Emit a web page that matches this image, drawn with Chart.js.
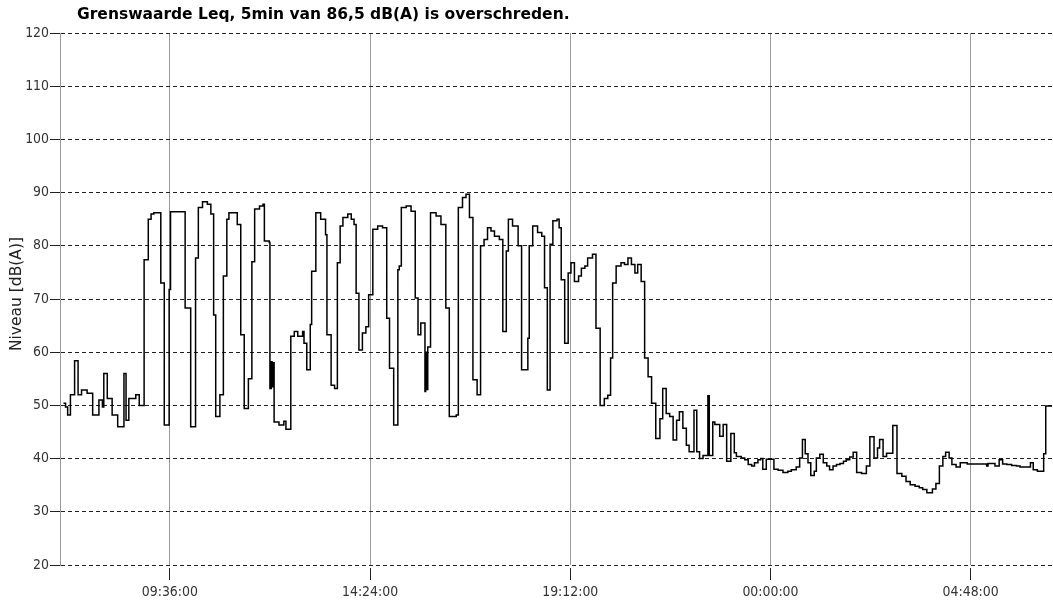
<!DOCTYPE html>
<html>
<head>
<meta charset="utf-8">
<script src="https://cdn.jsdelivr.net/npm/chart.js@4.4.1/dist/chart.umd.min.js"></script>
<style>
  html, body { margin: 0; padding: 0; background: #fff; }
  #wrap { width: 1053px; height: 609px; position: relative; }
</style>
</head>
<body>
<div id="wrap"><canvas id="levelChart"></canvas></div>
<script>
// Leq 5 min (step changes only)
const TITLE = "Grenswaarde Leq, 5min van 86,5 dB(A) is overschreden.";
const Y_TITLE = "Niveau [dB(A)]";

const startTime = "06:58";
const endTime = "06:45";
const tickTimes = ["09:36", "14:24", "19:12", "00:00", "04:48"];
const yTicks = [20, 30, 40, 50, 60, 70, 80, 90, 100, 110, 120];

const stepTimes = [
  "07:03", "07:06", "07:09", "07:13", "07:19", "07:24", "07:29", "07:37", "07:45", "07:54",
  "07:59", "08:01", "08:06", "08:13", "08:21", "08:30", "08:33", "08:37", "08:47", "08:52",
  "08:59", "09:05", "09:09", "09:13", "09:23", "09:28", "09:35", "09:37", "09:58", "10:06",
  "10:13", "10:17", "10:23", "10:30", "10:35", "10:39", "10:42", "10:48", "10:53", "10:58",
  "11:01", "11:13", "11:18", "11:23", "11:29", "11:34", "11:38", "11:45", "11:50", "11:52",
  "11:59", "12:00", "12:02", "12:03", "12:04", "12:06", "12:13", "12:20", "12:23", "12:30",
  "12:35", "12:40", "12:47", "12:49", "12:53", "12:58", "13:00", "13:06", "13:13", "13:20",
  "13:22", "13:28", "13:33", "13:37", "13:41", "13:45", "13:52", "13:57", "14:01", "14:04",
  "14:08", "14:13", "14:18", "14:22", "14:28", "14:35", "14:42", "14:48", "14:52", "14:58",
  "15:04", "15:06", "15:09", "15:16", "15:23", "15:29", "15:33", "15:37", "15:43", "15:44",
  "15:45", "15:47", "15:51", "15:59", "16:06", "16:13", "16:18", "16:28", "16:31", "16:37",
  "16:42", "16:47", "16:52", "16:58", "17:03", "17:08", "17:13", "17:18", "17:23", "17:30",
  "17:35", "17:40", "17:43", "17:49", "17:57", "18:02", "18:11", "18:13", "18:18", "18:25",
  "18:31", "18:35", "18:39", "18:43", "18:47", "18:53", "18:56", "18:59", "19:04", "19:09",
  "19:13", "19:18", "19:24", "19:28", "19:33", "19:37", "19:44", "19:49", "19:55", "20:01",
  "20:06", "20:10", "20:13", "20:18", "20:25", "20:30", "20:35", "20:40", "20:45", "20:49",
  "20:54", "20:59", "21:04", "21:09", "21:15", "21:21", "21:25", "21:30", "21:35", "21:40",
  "21:45", "21:49", "21:54", "21:59", "22:03", "22:10", "22:14", "22:18", "22:23", "22:30",
  "22:32", "22:37", "22:40", "22:47", "22:52", "22:57", "23:03", "23:08", "23:11", "23:18",
  "23:23", "23:28", "23:33", "23:37", "23:42", "23:46", "23:49", "23:54", "00:05", "00:11",
  "00:18", "00:25", "00:30", "00:37", "00:42", "00:46", "00:50", "00:54", "00:58", "01:03",
  "01:06", "01:11", "01:16", "01:21", "01:25", "01:30", "01:35", "01:40", "01:45", "01:49",
  "01:54", "01:59", "02:04", "02:11", "02:18", "02:23", "02:29", "02:34", "02:37", "02:42",
  "02:47", "02:56", "03:02", "03:09", "03:15", "03:21", "03:28", "03:34", "03:39", "03:45",
  "03:53", "03:58", "04:03", "04:08", "04:12", "04:17", "04:21", "04:27", "04:33", "04:43",
  "05:11", "05:13", "05:23", "05:29", "05:34", "05:40", "05:47", "05:54", "05:59", "06:14",
  "06:18", "06:24", "06:33", "06:36", "06:45"
];

const stepLevels = [
  50.4, 49.7, 48.2, 52.0, 58.4, 52.0, 52.9, 52.3, 48.2, 51.0,
  49.7, 56.0, 51.3, 48.2, 46.0, 56.0, 47.2, 51.3, 52.0, 50.0,
  77.4, 85.0, 86.0, 86.2, 73.0, 46.3, 71.8, 86.4, 68.3, 46.0,
  77.7, 87.2, 88.3, 87.8, 86.0, 67.0, 47.9, 52.0, 74.3, 85.0,
  86.2, 84.0, 63.3, 49.4, 55.0, 77.0, 86.9, 87.5, 87.8, 80.9,
  80.6, 53.2, 58.2, 53.5, 58.0, 46.9, 46.3, 47.0, 45.5, 63.0,
  63.9, 63.0, 63.9, 61.7, 56.7, 65.2, 75.2, 86.2, 85.0, 82.1,
  63.3, 53.8, 53.2, 76.8, 83.7, 85.3, 86.0, 85.0, 84.0, 71.1,
  60.4, 63.6, 64.8, 70.8, 83.1, 83.7, 83.4, 66.4, 57.0, 46.3,
  75.5, 76.2, 87.2, 87.5, 86.5, 70.2, 63.3, 65.5, 52.6, 60.0,
  53.0, 61.0, 86.2, 85.6, 84.0, 68.3, 47.9, 48.2, 87.2, 89.1,
  89.7, 85.3, 54.8, 52.0, 80.0, 81.2, 83.4, 82.8, 81.8, 81.2,
  63.9, 79.0, 85.0, 83.7, 80.0, 56.7, 62.6, 80.0, 83.7, 82.5,
  81.8, 72.1, 52.9, 80.3, 84.7, 85.0, 83.4, 73.6, 61.7, 74.9,
  76.8, 73.3, 74.3, 75.8, 76.2, 77.7, 78.4, 64.5, 50.0, 51.3,
  51.9, 58.9, 73.0, 76.2, 76.8, 76.5, 77.7, 76.5, 74.9, 76.5,
  73.3, 58.9, 55.4, 50.4, 43.8, 47.5, 53.2, 48.5, 47.9, 43.5,
  47.2, 48.8, 45.7, 42.5, 41.3, 49.1, 41.3, 40.0, 40.6, 51.8,
  40.6, 46.9, 46.4, 44.2, 46.4, 39.5, 44.7, 41.1, 40.4, 40.1,
  39.8, 38.9, 38.6, 39.2, 39.8, 40.0, 38.0, 39.9, 38.0, 37.8,
  37.4, 37.6, 37.9, 38.4, 40.1, 43.6, 40.9, 39.2, 36.8, 37.6,
  40.1, 40.8, 39.2, 38.6, 37.9, 38.6, 38.9, 39.1, 39.5, 39.8,
  40.3, 41.2, 37.4, 37.2, 38.6, 44.1, 40.1, 42.0, 43.6, 40.4,
  41.0, 46.2, 37.2, 36.7, 35.7, 35.1, 34.8, 34.5, 34.2, 33.6,
  34.3, 35.3, 38.6, 40.4, 41.2, 40.1, 38.9, 38.4, 39.2, 39.0,
  38.6, 39.1, 38.6, 39.8, 39.0, 38.9, 38.7, 38.6, 38.4, 39.2,
  37.9, 37.6, 40.9, 49.9, 49.9
];

const startMin = (() => {
  const [h, m] = startTime.split(":").map(Number);
  return h * 60 + m;
})();

// minutes since 00:00 of the first day; times before the start belong to the next day
function toMinutes(hhmm) {
  const [h, m] = hhmm.split(":").map(Number);
  let t = h * 60 + m;
  if (t < startMin) t += 1440;
  return t;
}

function fmtTick(v) {
  const t = ((Math.round(v) % 1440) + 1440) % 1440;
  const hh = String(Math.floor(t / 60)).padStart(2, "0");
  const mm = String(t % 60).padStart(2, "0");
  return hh + ":" + mm + ":00";
}

// the original uses a narrow face for tick labels; take the narrowest installed one
const measureCtx = document.createElement("canvas").getContext("2d");
function isInstalled(fam) {
  measureCtx.font = "100px " + fam + ", monospace";
  const a = measureCtx.measureText("09:36:00").width;
  measureCtx.font = "100px " + fam + ", serif";
  const b = measureCtx.measureText("09:36:00").width;
  return a === b;
}
const tickFamily = ["'Liberation Sans Narrow'", "'DejaVu Sans Condensed'"].find(isInstalled) || "'Liberation Sans'";
measureCtx.font = "100px " + tickFamily;
const tickSize = Math.round(10 * 100 * 56 / measureCtx.measureText("09:36:00").width) / 10;

const points = stepTimes.map((t, i) => ({ x: toMinutes(t), y: stepLevels[i] }));

// chart title and rotated axis title (wide face, like the original)
const textPlugin = {
  id: "titles",
  afterDraw(chart) {
    const ctx = chart.ctx;
    ctx.save();
    ctx.fillStyle = "#000";
    ctx.textBaseline = "middle";
    ctx.textAlign = "left";
    ctx.font = "bold 15.5px 'DejaVu Sans', Verdana, sans-serif";
    ctx.fillText(TITLE, 77, 15);

    ctx.fillStyle = "#222";
    ctx.font = "15.5px 'DejaVu Sans', Verdana, sans-serif";
    ctx.textAlign = "center";
    const mid = (chart.chartArea.top + chart.chartArea.bottom) / 2;
    ctx.translate(17, mid - 5);
    ctx.rotate(-Math.PI / 2);
    ctx.fillText(Y_TITLE, 0, 0);
    ctx.restore();
  },
};

new Chart(document.getElementById("levelChart"), {
  type: "line",
  data: {
    datasets: [{
      data: points,
      stepped: true,
      borderColor: "#000",
      borderWidth: 1.5,
      pointRadius: 0,
      fill: false,
    }],
  },
  options: {
    responsive: true,
    maintainAspectRatio: false,
    animation: false,
    layout: { padding: { top: 33, right: 1, left: 0, bottom: 0 } },
    plugins: {
      legend: { display: false },
      tooltip: { enabled: false },
      title: { display: false },
    },
    scales: {
      x: {
        type: "linear",
        min: startMin,
        max: toMinutes(endTime),
        afterBuildTicks: (scale) => {
          scale.ticks = tickTimes.map((t) => ({ value: toMinutes(t) }));
        },
        afterFit: (scale) => { scale.height = 44; },
        border: { display: false },
        grid: {
          color: "#999",
          lineWidth: 1,
          tickLength: 15,
          tickColor: "#222",
          tickBorderDash: [0, 3, 12, 60],
        },
        ticks: {
          autoSkip: false,
          maxRotation: 0,
          padding: 4,
          color: "#333",
          font: { family: tickFamily, size: tickSize },
          callback: (v) => fmtTick(v),
        },
      },
      y: {
        min: 20,
        max: 120,
        afterBuildTicks: (scale) => {
          scale.ticks = yTicks.map((v) => ({ value: v }));
        },
        afterFit: (scale) => { scale.width = 60; },
        border: { display: true, color: "#999", width: 1, dash: [4, 3] },
        grid: {
          color: "#222",
          lineWidth: 1,
          tickLength: 10,
          tickColor: "#222",
          tickBorderDash: [],
        },
        ticks: {
          padding: 1,
          color: "#333",
          font: { family: tickFamily, size: tickSize },
        },
      },
    },
  },
  plugins: [textPlugin],
});
</script>
</body>
</html>
